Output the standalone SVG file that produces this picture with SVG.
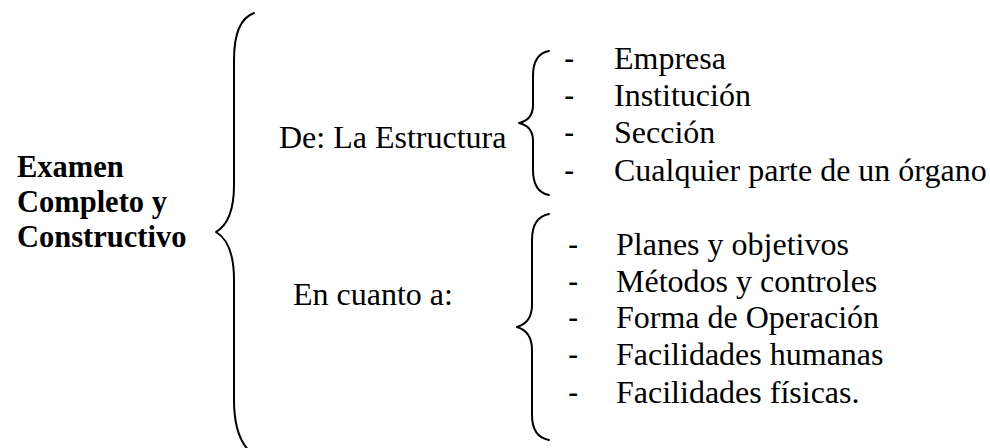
<svg xmlns="http://www.w3.org/2000/svg" width="990" height="448" viewBox="0 0 990 448">
<style>
text{font-family:'Liberation Serif','Times New Roman',serif;font-size:32px;fill:#000}
.b{font-weight:bold;font-size:30.5px}
.d{font-family:'Liberation Sans',Arial,sans-serif;font-size:31px}
.br{fill:none;stroke:#000;stroke-width:2;stroke-linecap:round;stroke-linejoin:round}
</style>
<rect width="990" height="448" fill="#fff"/>
<g id="root">
<text class="b" x="17" y="177">Examen</text>
<text class="b" x="17" y="212">Completo y</text>
<text class="b" x="17" y="247">Constructivo</text>
</g>
<g id="connectors">
<path class="br" stroke-width="2.2" d="M254 13 C240 18 234 35 234 60 L234 185 C234 210 228 225 216 232 C228 239 234 254 234 280 L234 400 C234 425 240 445 254 455"/>
<path class="br" d="M549 51 C538 53 533 62 533 76 L533 105 C533 115 528 121 519 123 C528 125 533 131 533 141 L533 170 C533 184 538 193 549 195"/>
<path class="br" d="M549 214 C538 216 532 225 532 240 L532 305 C532 316 527 324 517 327 C527 330 532 338 532 350 L532 415 C532 430 538 438 549 440"/>
</g>
<g id="estructura">
<text x="279" y="148">De: La Estructura</text>
</g>
<g id="estructura-items">
<text class="d" x="564" y="69">-</text><text x="614" y="69">Empresa</text>
<text class="d" x="564" y="106">-</text><text x="614" y="106">Institución</text>
<text class="d" x="564" y="143">-</text><text x="614" y="143">Sección</text>
<text class="d" x="564" y="181">-</text><text x="614" y="181">Cualquier parte de un órgano</text>
</g>
<g id="cuanto">
<text x="293" y="305">En cuanto a:</text>
</g>
<g id="cuanto-items">
<text class="d" x="568" y="255">-</text><text x="616" y="255">Planes y objetivos</text>
<text class="d" x="568" y="292">-</text><text x="616" y="292">Métodos y controles</text>
<text class="d" x="568" y="328">-</text><text x="616" y="328">Forma de Operación</text>
<text class="d" x="568" y="365">-</text><text x="616" y="365">Facilidades humanas</text>
<text class="d" x="568" y="403">-</text><text x="616" y="403">Facilidades físicas.</text>
</g>
</svg>
